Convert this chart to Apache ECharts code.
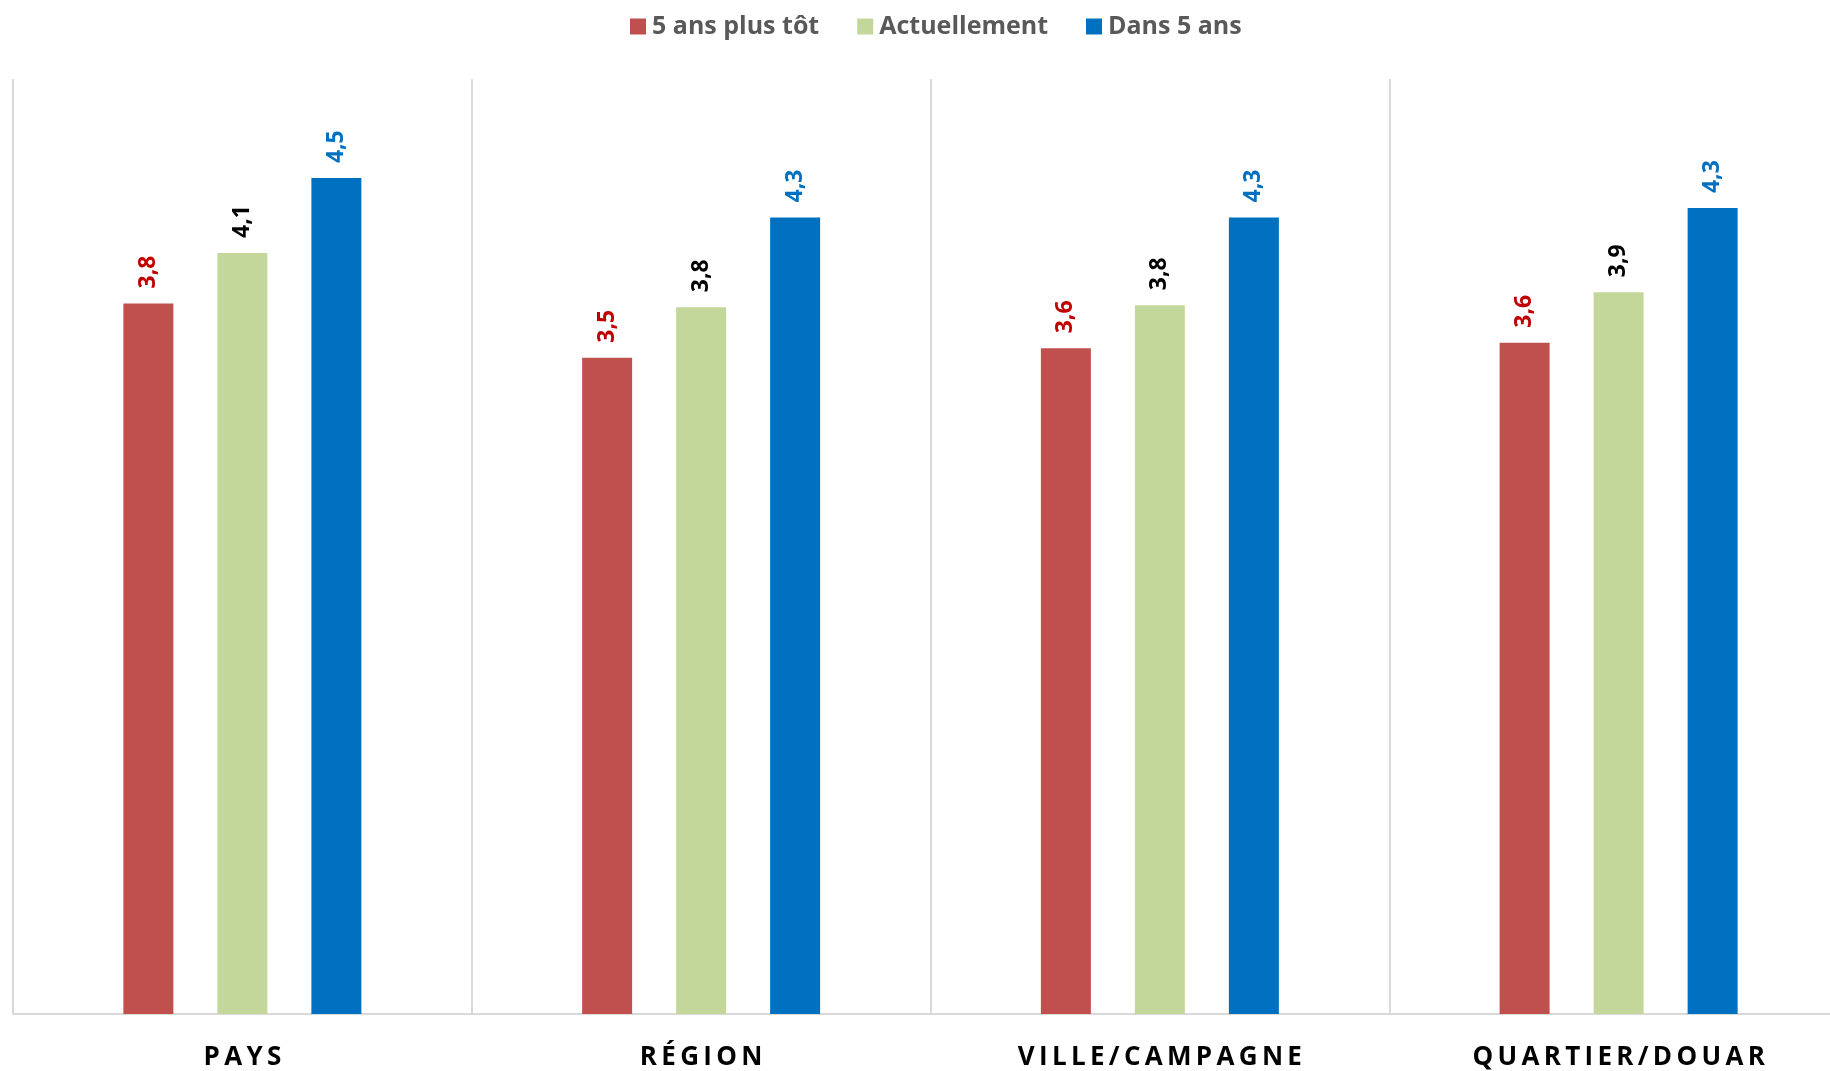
<!DOCTYPE html>
<html>
<head>
<meta charset="utf-8">
<style>
  html, body { margin: 0; padding: 0; background: #ffffff; overflow: hidden; }
  #chart { width: 1848px; height: 1071px; }
</style>
<script src="https://cdn.jsdelivr.net/npm/echarts@6/dist/echarts.min.js"></script>
</head>
<body>
<div id="chart"></div>
<script>
// ---- data ----
const categories = ['PAYS', 'RÉGION', 'VILLE/CAMPAGNE', 'QUARTIER/DOUAR'];
const seriesNames = ['5 ans plus tôt', 'Actuellement', 'Dans 5 ans'];
const before5 = [3.80, 3.51, 3.56, 3.59];
const current = [4.07, 3.78, 3.79, 3.86];
const in5 = [4.47, 4.26, 4.26, 4.31];

const barColors = ['#c0504d', '#c4d79b', '#0070c0'];
const labelColors = ['#c00000', '#000000', '#0070c0'];

const chart = echarts.init(document.getElementById('chart'), null, { renderer: 'canvas' });

function mkSeries(name, data, idx) {
  return {
    name: name,
    type: 'bar',
    data: data,
    barWidth: 50,
    barGap: '88%',
    itemStyle: { color: barColors[idx] },
    label: {
      show: true,
      position: 'top',
      rotate: 90,
      align: 'left',
      verticalAlign: 'middle',
      distance: 15,
      color: labelColors[idx],
      fontFamily: 'Open Sans',
      fontWeight: 'bold',
      fontSize: 23,
      formatter: p => p.value.toFixed(1).replace('.', ',')
    }
  };
}

chart.setOption({
  animation: false,
  backgroundColor: '#ffffff',
  legend: {
    data: seriesNames,
    left: 625,
    top: 9,
    icon: 'rect',
    itemWidth: 16,
    itemHeight: 16,
    itemGap: 38,
    textStyle: {
      color: '#595959',
      fontFamily: 'Open Sans',
      fontWeight: 'bold',
      fontSize: 25,
      padding: [0, 0, 0, 1]
    }
  },
  grid: { left: 13, right: 0, top: 79, bottom: 57, containLabel: false },
  xAxis: {
    type: 'category',
    data: categories,
    axisTick: { show: false },
    axisLine: { show: true, lineStyle: { color: '#d9d9d9', width: 2 } },
    splitLine: { show: true, lineStyle: { color: '#d9d9d9', width: 2 } },
    axisLabel: {
      margin: 31,
      color: '#000000',
      fontFamily: 'Open Sans',
      fontWeight: 'bold',
      fontSize: 26,
      formatter: v => v.split('').join('\u2009')
    }
  },
  yAxis: {
    type: 'value',
    min: 0,
    max: 5,
    show: false,
    splitLine: { show: false }
  },
  series: [
    mkSeries(seriesNames[0], before5, 0),
    mkSeries(seriesNames[1], current, 1),
    mkSeries(seriesNames[2], in5, 2)
  ]
});
</script>
</body>
</html>
